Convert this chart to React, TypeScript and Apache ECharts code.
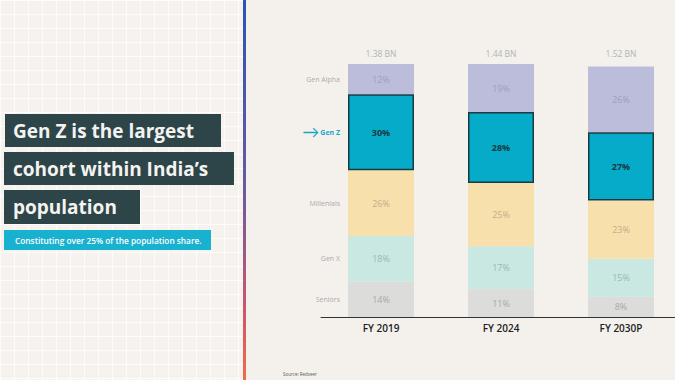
import React, { useEffect, useRef } from "react";
import * as echarts from "echarts";

const categories = ["FY 2019", "FY 2024", "FY 2030P"];
const totals = ["1.38 BN", "1.44 BN", "1.52 BN"];
const cohorts = ["Seniors", "Gen X", "Millenials", "Gen Z", "Gen Alpha"];
const seniors = [14, 11, 8];
const genX = [18, 17, 15];
const millennials = [26, 25, 23];
const genZ = [30, 28, 27];
const genAlpha = [12, 19, 26];
const titleLines = ["Gen Z is the largest", "cohort within India\u2019s", "population"];
const subtitle = "Constituting over 25% of the population share.";
const source = "Source: Redseer";

const values = [seniors, genX, millennials, genZ, genAlpha];
const fills = ["#dcdcdb", "#c9e8e1", "#f7e0ab", "#05abc8", "#bcbddb"];
const labelColors = ["#a9a9a9", "#9db7b1", "#bfae8c", "#173a40", "#9e9db8"];

export default function App() {
  const ref = useRef<HTMLDivElement>(null);
  useEffect(() => {
    document.body.style.margin = "0";
    const chart = echarts.init(ref.current!, null, { renderer: "svg" });
    const font = "'Open Sans', Lato, sans-serif";

    const mainSeries: any[] = cohorts.map((name, i) => ({
      name,
      type: "bar",
      stack: "main",
      barWidth: 66,
      barGap: "-100%",
      data: values[i],
      itemStyle:
        name === "Gen Z"
          ? { color: fills[i], borderColor: "#1b3a40", borderWidth: 1.5 }
          : { color: fills[i] },
      label: {
        show: true,
        position: "inside",
        formatter: "{c}%",
        color: labelColors[i],
        fontSize: 9,
        fontWeight: name === "Gen Z" ? "bold" : "normal",
        fontFamily: font,
      },
      z: name === "Gen Z" ? 3 : 2,
    }));

    const labelSeries: any[] = cohorts.map((name, i) => ({
      name: "lbl-" + name,
      type: "bar",
      stack: "labels",
      barWidth: 66,
      barGap: "-100%",
      data: values[i].map((v, j) => (j === 0 ? v : "-")),
      itemStyle: { color: "rgba(0,0,0,0)" },
      silent: true,
      label: {
        show: true,
        position: "left",
        distance: 8,
        formatter: name === "Gen Z" ? "{arr|\u2192}{gz|Gen Z}" : name,
        color: "#ababab",
        fontSize: 7,
        fontFamily: font,
        rich: {
          arr: { fontSize: 17, color: "#1aa6c8", padding: [0, 1, 2, 0] },
          gz: { fontSize: 7, color: "#1aa6c8", fontWeight: "bold", fontFamily: font },
        },
      },
      z: 1,
    }));

    chart.setOption({
      animation: false,
      grid: { left: 321, top: 64, width: 360, height: 253, containLabel: false },
      xAxis: [
        {
          type: "category",
          data: categories,
          axisLine: { show: true, lineStyle: { color: "#333", width: 1 } },
          axisTick: { show: false },
          axisLabel: { color: "#222", fontSize: 10, fontWeight: 600, fontFamily: font, margin: 6 },
        },
        {
          type: "category",
          position: "top",
          data: totals,
          axisLine: { show: false },
          axisTick: { show: false },
          axisLabel: { color: "#b3b3b3", fontSize: 8.5, fontFamily: font, margin: 6 },
        },
      ],
      yAxis: { type: "value", min: 0, max: 100, show: false },
      series: [...mainSeries, ...labelSeries],
      graphic: [
        {
          type: "rect",
          shape: { x: 243, y: 0, width: 3, height: 380 },
          style: {
            fill: new echarts.graphic.LinearGradient(0, 0, 0, 1, [
              { offset: 0, color: "#2a54b6" },
              { offset: 0.5, color: "#6a5a9e" },
              { offset: 0.85, color: "#d85668" },
              { offset: 1, color: "#f06c48" },
            ]),
          },
        },
        { type: "rect", shape: { x: 5, y: 114, width: 216, height: 33 }, style: { fill: "#2d4448" } },
        { type: "rect", shape: { x: 4, y: 152, width: 230, height: 33 }, style: { fill: "#2d4448" } },
        { type: "rect", shape: { x: 4, y: 190, width: 136, height: 34 }, style: { fill: "#2d4448" } },
        { type: "rect", shape: { x: 4, y: 230, width: 207, height: 20 }, style: { fill: "#19b1d0" } },
        ...titleLines.map((t, i) => ({
          type: "text",
          x: 13,
          y: [131, 169, 207][i],
          style: {
            text: t,
            fill: "#f3f3f0",
            fontSize: 19,
            fontWeight: "bold",
            fontFamily: font,
            verticalAlign: "middle",
          },
        })),
        {
          type: "text",
          x: 15,
          y: 240,
          style: { text: subtitle, fill: "#ffffff", fontSize: 8.3, fontWeight: 600, fontFamily: font, verticalAlign: "middle" },
        },
        {
          type: "text",
          x: 283,
          y: 374,
          style: { text: source, fill: "#555", fontSize: 4.5, fontFamily: font, verticalAlign: "middle" },
        },
      ],
    });
    return () => chart.dispose();
  }, []);

  return (
    <div style={{ position: "relative", width: 675, height: 380, background: "#f4f1ec", overflow: "hidden" }}>
      <div
        style={{
          position: "absolute",
          left: 0,
          top: 0,
          width: 243,
          height: 380,
          backgroundColor: "#f6f3ee",
          backgroundImage:
            "linear-gradient(rgba(255,255,255,0.75) 1px, transparent 1px), linear-gradient(90deg, rgba(255,255,255,0.75) 1px, transparent 1px)",
          backgroundSize: "14px 14px",
        }}
      />
      <div ref={ref} style={{ position: "absolute", left: 0, top: 0, width: 690, height: 380 }} />
    </div>
  );
}
